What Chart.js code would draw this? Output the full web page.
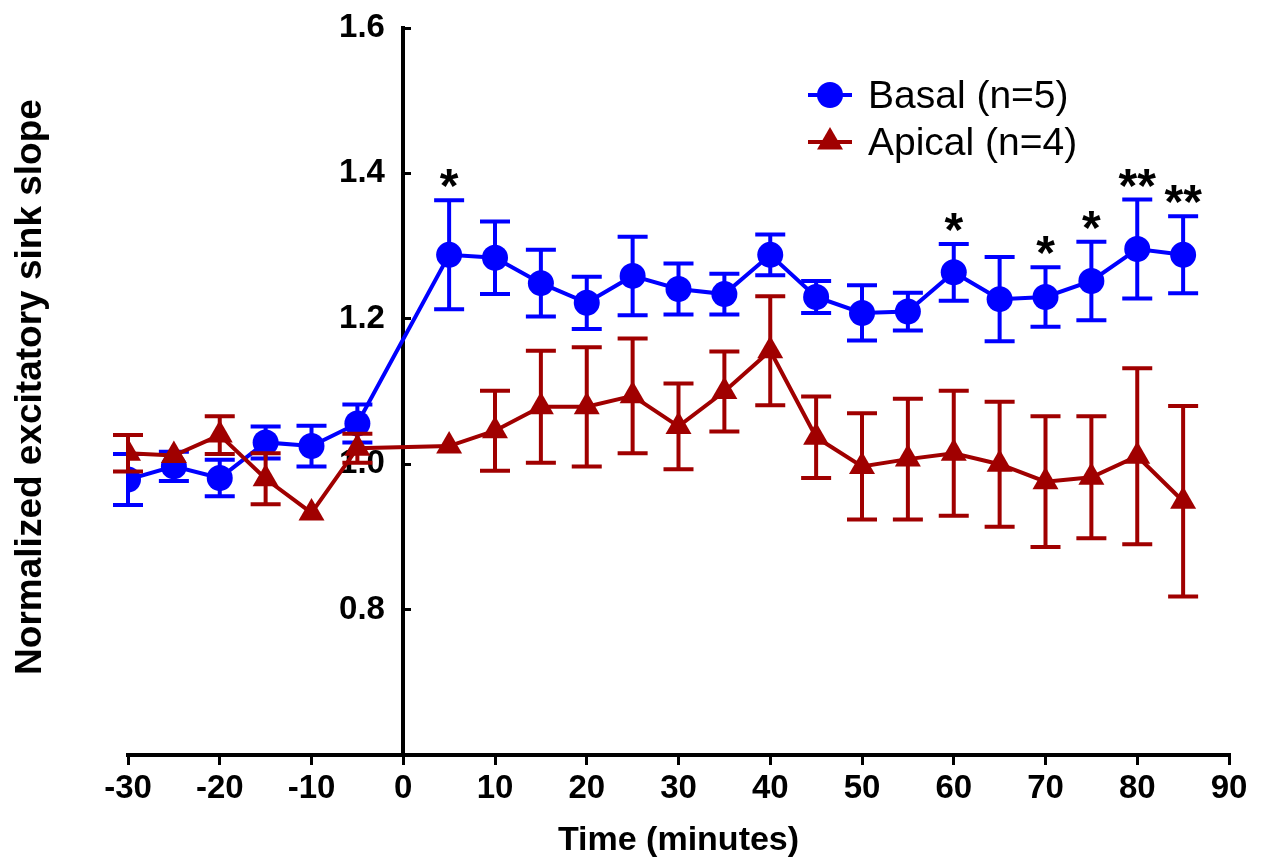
<!DOCTYPE html>
<html lang="en">
<head>
    <meta charset="UTF-8">
    <title>Excitatory sink slope</title>
    <script src="https://cdn.jsdelivr.net/npm/chart.js"></script>
    <style>
        body {
            margin: 0;
            background-color: #fff;
        }
        #wrap {
            width: 1266px;
            height: 861px;
        }
    </style>
</head>
<body>
    <div id="wrap">
        <canvas id="sinkChart" width="1266" height="861"></canvas>
    </div>

    <script>
        // time points (minutes)
        const times = [-30, -25, -20, -15, -10, -5, 5, 10, 15, 20, 25, 30, 35, 40, 45, 50, 55, 60, 65, 70, 75, 80, 85];

        // Basal (n=5)
        const basalMean = [0.979, 0.997, 0.981, 1.030, 1.025, 1.056, 1.288, 1.284, 1.249, 1.222, 1.259, 1.241, 1.234, 1.288, 1.230, 1.208, 1.210, 1.264, 1.227, 1.230, 1.252, 1.296, 1.288];
        const basalErr = [0.035, 0.020, 0.025, 0.022, 0.028, 0.026, 0.075, 0.050, 0.046, 0.036, 0.054, 0.035, 0.028, 0.028, 0.022, 0.038, 0.026, 0.039, 0.058, 0.041, 0.054, 0.068, 0.053];

        // Apical (n=4)
        const apicalMean = [1.015, 1.012, 1.040, 0.980, 0.933, 1.022, 1.025, 1.046, 1.079, 1.079, 1.094, 1.052, 1.100, 1.156, 1.037, 0.997, 1.007, 1.015, 1.000, 0.976, 0.982, 1.011, 0.949];
        const apicalErr = [0.025, 0, 0.026, 0.035, 0, 0.020, 0, 0.055, 0.077, 0.082, 0.079, 0.059, 0.055, 0.075, 0.056, 0.073, 0.083, 0.086, 0.086, 0.090, 0.084, 0.121, 0.131];

        // significance marks above the basal points
        const sigMarks = ['', '', '', '', '', '', '*', '', '', '', '', '', '', '', '', '', '', '*', '', '*', '*', '**', '**'];

        const yTicks = [0.8, 1.0, 1.2, 1.4, 1.6];

        const BLUE = '#0000ff';
        const RED = '#a00000';
        const FONT = 'Liberation Sans, Arial, sans-serif';

        function toPoints(means) {
            return times.map((t, i) => ({ x: t, y: means[i] }));
        }

        // SEM bars, drawn under each dataset's own line and markers
        const errorBars = {
            id: 'errorBars',
            beforeDatasetDraw(chart, args) {
                const ds = chart.data.datasets[args.index];
                if (!ds.errors) return;
                const { ctx, scales: { x, y } } = chart;
                ctx.save();
                ctx.strokeStyle = ds.borderColor;
                ctx.lineWidth = 4;
                ds.data.forEach((p, i) => {
                    const e = ds.errors[i];
                    if (!e) return;
                    const px = x.getPixelForValue(p.x);
                    const top = y.getPixelForValue(p.y + e);
                    const bot = y.getPixelForValue(p.y - e);
                    ctx.beginPath();
                    ctx.moveTo(px, top);
                    ctx.lineTo(px, bot);
                    ctx.moveTo(px - 15, top);
                    ctx.lineTo(px + 15, top);
                    ctx.moveTo(px - 15, bot);
                    ctx.lineTo(px + 15, bot);
                    ctx.stroke();
                });
                ctx.restore();
            }
        };

        // asterisks, legend and rotated y title
        const extras = {
            id: 'extras',
            afterDraw(chart) {
                const { ctx, scales: { x, y } } = chart;
                ctx.save();
                ctx.fillStyle = '#000';
                ctx.textAlign = 'center';
                ctx.textBaseline = 'alphabetic';
                ctx.font = 'bold 48px ' + FONT;
                sigMarks.forEach((m, i) => {
                    if (!m) return;
                    const px = x.getPixelForValue(times[i]);
                    const py = y.getPixelForValue(basalMean[i] + basalErr[i]);
                    ctx.fillText(m, px, py + 2);
                });

                // y axis title
                ctx.save();
                ctx.translate(31, 387);
                ctx.rotate(-Math.PI / 2);
                ctx.textBaseline = 'middle';
                ctx.font = 'bold 37px ' + FONT;
                ctx.fillText('Normalized excitatory sink slope', 0, 0);
                ctx.restore();

                // legend
                const items = [
                    { label: 'Basal (n=5)', color: BLUE, style: 'circle', r: 13, yPos: 95 },
                    { label: 'Apical (n=4)', color: RED, style: 'triangle', r: 15, yPos: 142 }
                ];
                ctx.textAlign = 'left';
                ctx.textBaseline = 'middle';
                ctx.font = '39px ' + FONT;
                items.forEach(it => {
                    ctx.strokeStyle = it.color;
                    ctx.fillStyle = it.color;
                    ctx.lineWidth = 4;
                    ctx.beginPath();
                    ctx.moveTo(808, it.yPos);
                    ctx.lineTo(852, it.yPos);
                    ctx.stroke();
                    Chart.helpers.drawPoint(ctx, { pointStyle: it.style, radius: it.r, rotation: 0, borderWidth: 0 }, 830, it.yPos);
                    ctx.fillStyle = '#000';
                    ctx.fillText(it.label, 868, it.yPos + 2);
                });
                ctx.restore();
            }
        };

        const ctx = document.getElementById('sinkChart').getContext('2d');
        new Chart(ctx, {
            type: 'line',
            data: {
                datasets: [
                    {
                        label: 'Basal (n=5)',
                        data: toPoints(basalMean),
                        errors: basalErr,
                        borderColor: BLUE,
                        backgroundColor: BLUE,
                        borderWidth: 4,
                        pointStyle: 'circle',
                        pointRadius: 13,
                        pointBorderWidth: 0,
                        tension: 0,
                        order: 1
                    },
                    {
                        label: 'Apical (n=4)',
                        data: toPoints(apicalMean),
                        errors: apicalErr,
                        borderColor: RED,
                        backgroundColor: RED,
                        borderWidth: 4,
                        pointStyle: 'triangle',
                        pointRadius: 15,
                        pointBorderWidth: 0,
                        tension: 0,
                        order: 0
                    }
                ]
            },
            options: {
                responsive: false,
                animation: false,
                layout: {
                    padding: { left: 128, right: 37, top: 28, bottom: 0 }
                },
                plugins: {
                    legend: { display: false },
                    tooltip: { enabled: false }
                },
                scales: {
                    x: {
                        type: 'linear',
                        min: -30,
                        max: 90,
                        ticks: {
                            stepSize: 10,
                            color: '#000',
                            padding: 4,
                            font: { family: FONT, size: 33, weight: 'bold' }
                        },
                        grid: { drawOnChartArea: false, tickLength: 10, color: '#000', lineWidth: 3 },
                        border: { color: '#000', width: 4 },
                        title: {
                            display: true,
                            text: 'Time (minutes)',
                            color: '#000',
                            padding: { top: 2, bottom: 0 },
                            font: { family: FONT, size: 34, weight: 'bold' }
                        },
                        afterFit(scale) { scale.height = 106; }
                    },
                    y: {
                        type: 'linear',
                        position: { x: 0 },
                        min: 0.6,
                        max: 1.6,
                        afterBuildTicks(scale) {
                            scale.ticks = yTicks.map(v => ({ value: v }));
                        },
                        ticks: {
                            color: '#000',
                            font: { family: FONT, size: 33, weight: 'bold' },
                            // labels sit right-aligned on the crossing axis, so pad them off the tick marks
                            callback: v => v.toFixed(1) + '  '
                        },
                        grid: { drawOnChartArea: false, tickLength: -10, color: '#000', lineWidth: 3 },
                        border: { color: '#000', width: 4 },
                        afterFit(scale) { scale.width = 0; }
                    }
                }
            },
            plugins: [errorBars, extras]
        });
    </script>
</body>
</html>
